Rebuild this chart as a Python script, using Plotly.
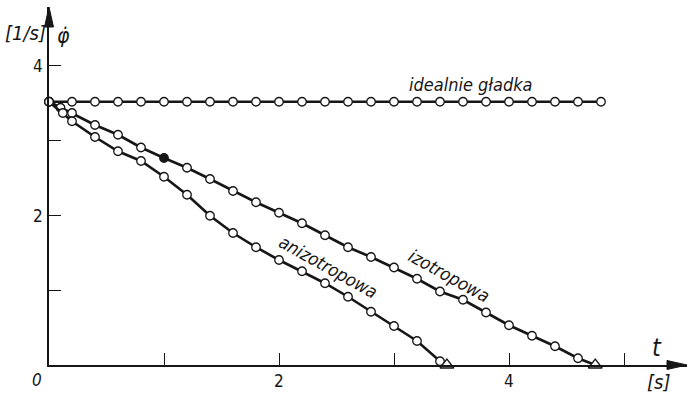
import plotly.graph_objects as go

# ---- data ----
t_ideal = [0.0, 0.2, 0.4, 0.6, 0.8, 1.0, 1.2, 1.4, 1.6, 1.8, 2.0, 2.2, 2.4,
           2.6, 2.8, 3.0, 3.2, 3.4, 3.6, 3.8, 4.0, 4.2, 4.4, 4.6, 4.8]
v_ideal = [3.51, 3.51, 3.51, 3.51, 3.51, 3.51, 3.51, 3.51, 3.51, 3.51, 3.51, 3.51, 3.51,
           3.51, 3.51, 3.51, 3.51, 3.51, 3.51, 3.51, 3.51, 3.51, 3.51, 3.51, 3.51]

t_izo = [0.0, 0.1, 0.2, 0.4, 0.6, 0.8, 1.0, 1.2, 1.4, 1.6, 1.8, 2.0, 2.2,
         2.4, 2.6, 2.8, 3.0, 3.2, 3.4, 3.6, 3.8, 4.0, 4.2, 4.4, 4.6, 4.75]
v_izo = [3.51, 3.43, 3.36, 3.20, 3.07, 2.90, 2.76, 2.63, 2.48, 2.32, 2.17, 2.03, 1.89,
         1.73, 1.57, 1.44, 1.30, 1.15, 0.98, 0.87, 0.70, 0.53, 0.39, 0.25, 0.09, 0.0]

t_aniz = [0.0, 0.12, 0.2, 0.4, 0.6, 0.8, 1.0, 1.2, 1.4, 1.6, 1.8, 2.0, 2.2,
          2.4, 2.6, 2.8, 3.0, 3.2, 3.4, 3.46]
v_aniz = [3.51, 3.36, 3.25, 3.04, 2.85, 2.72, 2.51, 2.27, 1.99, 1.76, 1.57, 1.40, 1.25,
          1.09, 0.91, 0.71, 0.52, 0.32, 0.05, 0.0]

x_ticks = [1, 2, 3, 4, 5]
x_tick_labels = ["", "2", "", "4", ""]
y_ticks = [1, 2, 3, 4]
y_tick_labels = ["", "2", "", "4"]

series_labels = ["idealnie gładka", "izotropowa", "anizotropowa"]

# ---- figure ----
W, H = 688, 394
ML, MR, MT, MB = 49, 1, 7, 29
PW, PH = W - ML - MR, H - MT - MB
PX_X = 115.0   # pixels per second
PX_Y = 75.0    # pixels per 1/s
xmax = PW / PX_X
ymax = PH / PX_Y

FONT = "DejaVu Sans Condensed, Liberation Sans Narrow, DejaVu Sans, sans-serif"
INK = "#161616"

fig = go.Figure()

def add_curve(t, v, filled_idx=None, end_triangle=False):
    n = len(t)
    symbols, sizes, fills = [], [], []
    for i in range(n):
        if end_triangle and i == n - 1:
            symbols.append("triangle-up")
            sizes.append(12)
            fills.append("white")
        else:
            symbols.append("circle")
            sizes.append(8.5)
            fills.append(INK if (filled_idx is not None and i == filled_idx) else "white")
    fig.add_trace(go.Scatter(
        x=t, y=v, mode="lines+markers", cliponaxis=False,
        line=dict(color=INK, width=2.6),
        marker=dict(symbol=symbols, size=sizes, color=fills, opacity=1,
                    line=dict(color=INK, width=1.3)),
        showlegend=False, hoverinfo="skip"))

add_curve(t_ideal, v_ideal)
add_curve(t_izo, v_izo, filled_idx=6, end_triangle=True)
add_curve(t_aniz, v_aniz, end_triangle=True)

axis_common = dict(showgrid=False, zeroline=False, showline=True, linecolor=INK,
                   linewidth=2, ticks="inside", ticklen=12, tickwidth=1.2,
                   tickcolor=INK, showticklabels=False, fixedrange=True)
fig.update_xaxes(range=[0, xmax], tickvals=x_ticks, **axis_common)
fig.update_yaxes(range=[0, ymax], tickvals=y_ticks, **axis_common)

ann = []
def text(px, py, s, size, italic=True, angle=0):
    # place by pixel position using paper coordinates (may lie outside the plot area)
    ann.append(dict(x=(px - ML) / PW, y=(H - MB - py) / PH, xref="paper", yref="paper",
                    text=s, showarrow=False, textangle=angle,
                    xanchor="center", yanchor="middle",
                    font=dict(family=FONT, size=size, color=INK,
                              style="italic" if italic else "normal")))

# tick labels
for v, lab in zip(x_ticks, x_tick_labels):
    if lab:
        ann.append(dict(x=v, y=0, xref="x", yref="paper", text=lab, showarrow=False,
                        yanchor="middle", yshift=-16,
                        font=dict(family=FONT, size=17, color=INK)))
for v, lab in zip(y_ticks, y_tick_labels):
    if lab:
        ann.append(dict(x=0, y=v, xref="paper", yref="y", text=lab, showarrow=False,
                        xanchor="center", xshift=-11, yshift=-1,
                        font=dict(family=FONT, size=17, color=INK)))
text(37, 380, "0", 17)

# axis titles
text(25, 33, "[1/s]", 20)
text(63, 36, "φ̇", 21)
text(657, 347, "t", 25)
text(658, 382, "[s]", 20)

# curve labels
text(471, 84, series_labels[0], 18)
text(449, 275, series_labels[1], 18, angle=29)
text(328, 266, series_labels[2], 18, angle=29)

fig.update_layout(annotations=ann)

# arrow heads at the ends of the axes
fig.add_shape(type="path", xref="paper", yref="paper", xsizemode="pixel",
              ysizemode="pixel", xanchor=0, yanchor=1,
              path="M 0 0 L -4.5 -20 L 4.5 -20 Z", fillcolor=INK,
              line=dict(color=INK, width=1))
fig.add_shape(type="path", xref="paper", yref="paper", xsizemode="pixel",
              ysizemode="pixel", xanchor=1, yanchor=0,
              path="M 0 0 L -20 4.5 L -20 -4.5 Z", fillcolor=INK,
              line=dict(color=INK, width=1))

fig.update_layout(width=W, height=H,
                  margin=dict(l=ML, r=MR, t=MT, b=MB, pad=0),
                  paper_bgcolor="white", plot_bgcolor="white")

fig.write_html("out.html")
